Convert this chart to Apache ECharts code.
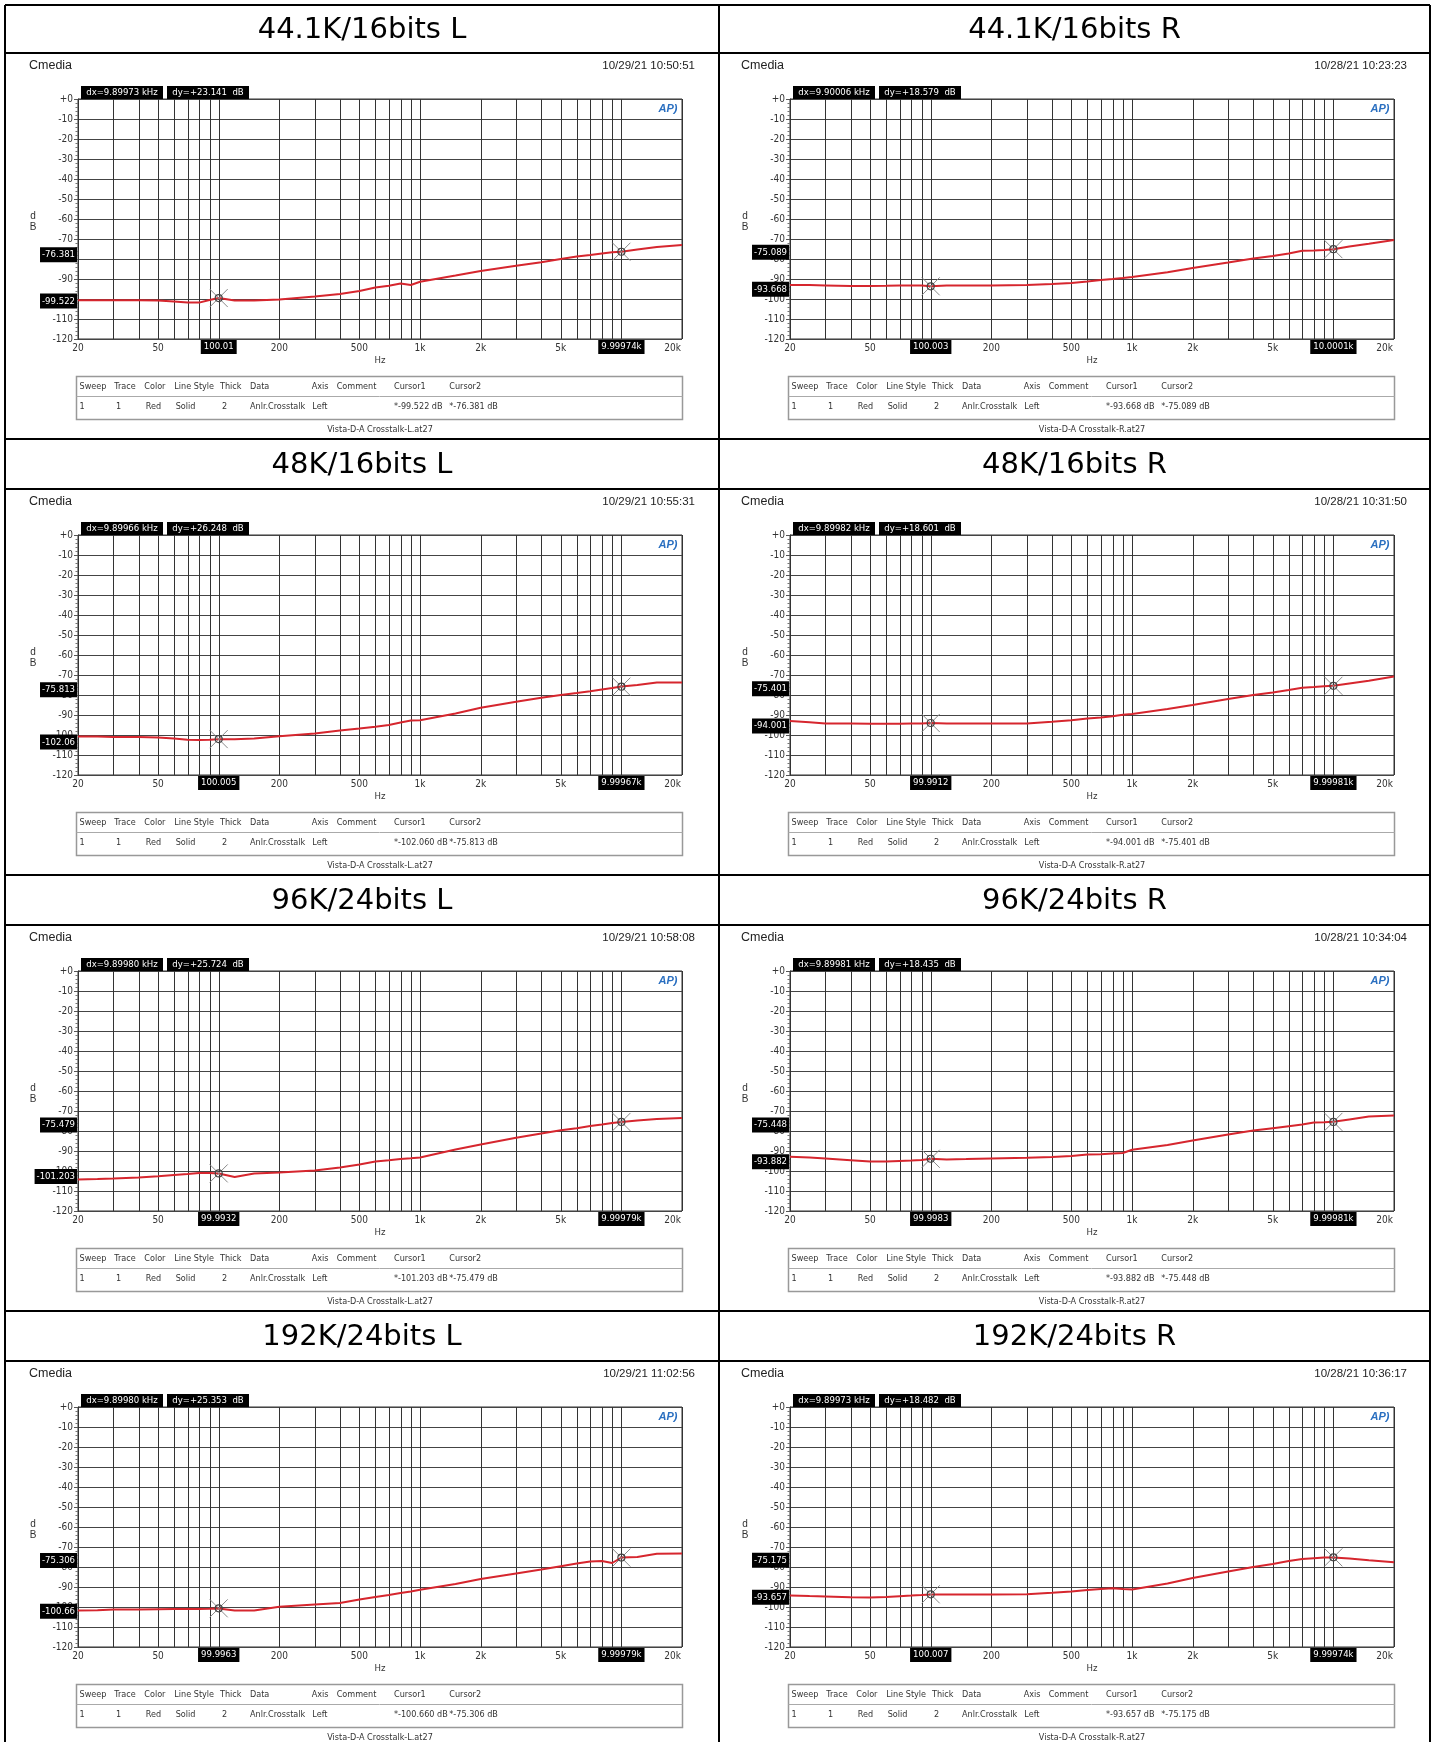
<!DOCTYPE html>
<html><head><meta charset="utf-8">
<script src="https://cdn.jsdelivr.net/npm/echarts@6/dist/echarts.min.js"></script>
<style>html,body{margin:0;padding:0;background:#fff}#c{width:1435px;height:1742px}</style>
</head><body><div id="c"></div><script>
// ---------------- DATA ----------------
const PANEL_TITLES = ['44.1K/16bits L','44.1K/16bits R','48K/16bits L','48K/16bits R','96K/24bits L','96K/24bits R','192K/24bits L','192K/24bits R'];
const TIMESTAMPS = ['10/29/21 10:50:51','10/28/21 10:23:23','10/29/21 10:55:31','10/28/21 10:31:50','10/29/21 10:58:08','10/28/21 10:34:04','10/29/21 11:02:56','10/28/21 10:36:17'];
const DX_TEXT = ['dx=9.89973 kHz','dx=9.90006 kHz','dx=9.89966 kHz','dx=9.89982 kHz','dx=9.89980 kHz','dx=9.89981 kHz','dx=9.89980 kHz','dx=9.89973 kHz'];
const DY_TEXT = ['dy=+23.141  dB','dy=+18.579  dB','dy=+26.248  dB','dy=+18.601  dB','dy=+25.724  dB','dy=+18.435  dB','dy=+25.353  dB','dy=+18.482  dB'];
const CUR1_HZ = [100.01, 100.003, 100.005, 99.9912, 99.9932, 99.9983, 99.9963, 100.007];
const CUR1_HZ_TEXT = ['100.01','100.003','100.005','99.9912','99.9932','99.9983','99.9963','100.007'];
const CUR2_HZ = [9999.74, 10000.06, 9999.67, 9999.81, 9999.79, 9999.81, 9999.79, 9999.74];
const CUR2_HZ_TEXT = ['9.99974k','10.0001k','9.99967k','9.99981k','9.99979k','9.99981k','9.99979k','9.99974k'];
const CUR1_DB = [-99.522, -93.668, -102.060, -94.001, -101.203, -93.882, -100.660, -93.657];
const CUR1_DB_TEXT = ['-99.522','-93.668','-102.06','-94.001','-101.203','-93.882','-100.66','-93.657'];
const CUR2_DB = [-76.381, -75.089, -75.813, -75.401, -75.479, -75.448, -75.306, -75.175];
const CUR2_DB_TEXT = ['-76.381','-75.089','-75.813','-75.401','-75.479','-75.448','-75.306','-75.175'];
const FILES = ['Vista-D-A Crosstalk-L.at27','Vista-D-A Crosstalk-R.at27'];

const Y_TICKS_MIN = -120, Y_TICKS_MAX = 0;
const GRID_HZ = [20,30,40,50,60,70,80,90,100,200,300,400,500,600,700,800,900,1000,2000,3000,4000,5000,6000,7000,8000,9000,10000,20000];
const X_LABEL_HZ = [20,50,100,200,500,1000,2000,5000,10000,20000];
const X_LABEL_TEXT = ['20','50','100','200','500','1k','2k','5k','10k','20k'];

const TABLE_HEAD = ['Sweep','Trace','Color','Line Style','Thick','Data','Axis','Comment','Cursor1','Cursor2'];
const TABLE_ROW = ['1','1','Red','Solid','2','Anlr.Crosstalk','Left',''];

const FREQ = [20,25,30,40,50,60,70,80,90,100,120,150,200,300,400,500,600,700,800,900,1000,1500,2000,3000,4000,5000,6000,7000,8000,9000,10000,12000,15000,20000];
const CT_441_L = [-100.6,-100.6,-100.6,-100.6,-100.8,-101.2,-101.8,-101.8,-100.5,-99.5,-100.8,-100.8,-100.3,-98.8,-97.5,-96.0,-94.3,-93.4,-92.3,-93.0,-91.4,-88.3,-86.0,-83.4,-81.6,-80.0,-78.8,-78.0,-77.2,-76.6,-76.4,-75.3,-74.0,-73.0];
const CT_441_R = [-93.0,-93.0,-93.2,-93.5,-93.5,-93.4,-93.3,-93.3,-93.3,-93.6,-93.3,-93.3,-93.3,-93.0,-92.5,-92.0,-91.2,-90.5,-90.0,-89.5,-89.0,-86.6,-84.5,-81.8,-79.8,-78.5,-77.2,-75.9,-75.8,-75.5,-75.1,-73.8,-72.4,-70.5];
const CT_48_L  = [-100.7,-100.8,-101.0,-101.0,-101.2,-101.8,-102.4,-102.5,-102.4,-102.1,-102.1,-101.8,-100.6,-99.3,-97.8,-96.8,-95.9,-95.0,-93.8,-92.8,-92.6,-89.2,-86.4,-83.4,-81.4,-80.0,-79.0,-78.1,-77.2,-76.5,-75.8,-75.0,-73.8,-73.8];
const CT_48_R  = [-93.0,-93.6,-94.2,-94.3,-94.4,-94.4,-94.4,-94.3,-94.2,-94.0,-94.3,-94.3,-94.3,-94.2,-93.4,-92.6,-91.8,-91.2,-90.6,-89.9,-89.5,-87.0,-85.0,-82.0,-80.0,-78.7,-77.5,-76.4,-76.0,-75.6,-75.4,-74.2,-72.9,-70.7];
const CT_96_L  = [-104.2,-104.0,-103.7,-103.2,-102.6,-102.0,-101.5,-101.0,-101.0,-101.2,-103.0,-101.3,-100.8,-99.7,-98.2,-96.8,-95.2,-94.6,-94.0,-93.6,-93.2,-89.3,-86.8,-83.4,-81.2,-79.6,-78.6,-77.5,-76.8,-76.0,-75.5,-74.8,-74.0,-73.5];
const CT_96_R  = [-92.9,-93.3,-93.7,-94.6,-95.3,-95.3,-95.0,-94.8,-94.5,-93.9,-94.2,-94.0,-93.7,-93.4,-93.0,-92.5,-91.7,-91.6,-91.2,-91.0,-89.4,-87.0,-84.8,-81.8,-79.8,-78.6,-77.6,-76.8,-75.8,-75.6,-75.4,-74.2,-72.8,-72.2];
const CT_192_L = [-101.8,-101.6,-101.3,-101.2,-101.1,-101.0,-101.0,-101.0,-100.9,-100.7,-101.8,-101.8,-99.9,-98.8,-98.0,-96.3,-95.0,-94.0,-93.0,-92.2,-91.4,-88.5,-86.0,-83.2,-81.2,-79.6,-78.3,-77.3,-77.0,-78.0,-75.3,-75.0,-73.4,-73.2];
const CT_192_R = [-94.2,-94.5,-94.7,-95.1,-95.2,-95.0,-94.6,-94.3,-94.0,-93.7,-93.7,-93.7,-93.7,-93.6,-92.9,-92.3,-91.5,-91.0,-90.6,-91.0,-91.3,-88.2,-85.5,-82.2,-80.0,-78.5,-77.0,-76.0,-75.6,-75.3,-75.2,-75.8,-76.6,-77.6];
const CURVES = [CT_441_L, CT_441_R, CT_48_L, CT_48_R, CT_96_L, CT_96_R, CT_192_L, CT_192_R];

// ---------------- LAYOUT ----------------
const FN = "'Liberation Sans Narrow','DejaVu Sans Condensed','Liberation Sans',Arial,sans-serif";
const FA = "'Liberation Sans',Arial,sans-serif";
const CELL_X = [5, 719, 1430];
const ROW_TOP = [5, 439, 875, 1311];
const FRAME_BOTTOM = 1745;
const TITLE_BOTTOM = [53, 489, 925, 1361];
const PLOT_LEFT = [78, 790];
const PW = 604, PH = 240;

const chart = echarts.init(document.getElementById('c'), null, {renderer:'canvas'});
const grids = [], xAxes = [], yAxes = [], series = [], G = [];

// outer frame
const frameStyle = {stroke:'#000', lineWidth:2};
ROW_TOP.forEach(y => G.push({type:'line', shape:{x1:CELL_X[0], y1:y, x2:CELL_X[2], y2:y}, style:frameStyle}));
TITLE_BOTTOM.forEach(y => G.push({type:'line', shape:{x1:CELL_X[0], y1:y, x2:CELL_X[2], y2:y}, style:frameStyle}));
CELL_X.forEach(x => G.push({type:'line', shape:{x1:x, y1:ROW_TOP[0], x2:x, y2:FRAME_BOTTOM}, style:frameStyle}));

function gridRender(params, api) {
  const f = api.value(0);
  const a = api.coord([f, Y_TICKS_MAX]), b = api.coord([f, Y_TICKS_MIN]);
  const x = Math.round(a[0]) + 0.5;
  return {type:'line', shape:{x1:x, y1:a[1], x2:x, y2:b[1]}, style:{stroke:'#333', lineWidth:1}};
}
function xLabelRender(params, api) {
  const p = api.coord([api.value(0), Y_TICKS_MIN]);
  const last = params.dataIndex === X_LABEL_HZ.length - 1;
  return {type:'text', x:last ? p[0] - 1 : p[0], y:p[1] + 9,
    style:{text:X_LABEL_TEXT[params.dataIndex], font:'10px ' + FN, fill:'#333', align:last ? 'right' : 'center', verticalAlign:'middle'}};
}
function makeCursorRender(k) {
  return function(params, api) {
    const i = params.dataIndex;
    const f = api.value(0), v = api.value(1);
    const p = api.coord([f, v]);
    const bottom = api.coord([f, Y_TICKS_MIN])[1];
    const left = api.coord([20, v])[0];
    const s = 9;
    const xt = i === 0 ? CUR1_HZ_TEXT[k] : CUR2_HZ_TEXT[k];
    const yt = i === 0 ? CUR1_DB_TEXT[k] : CUR2_DB_TEXT[k];
    return {type:'group', children:[
      {type:'line', shape:{x1:p[0]-s, y1:p[1]-s, x2:p[0]+s, y2:p[1]+s}, style:{stroke:'#8a8a8a', lineWidth:1}},
      {type:'line', shape:{x1:p[0]-s, y1:p[1]+s, x2:p[0]+s, y2:p[1]-s}, style:{stroke:'#8a8a8a', lineWidth:1}},
      {type:'circle', shape:{cx:p[0], cy:p[1], r:3.5}, style:{fill:'rgba(0,0,0,0)', stroke:'#444', lineWidth:1.2}},
      {type:'text', x:p[0], y:bottom + 1, style:{text:xt, font:'9.5px ' + FN, fill:'#fff', backgroundColor:'#000', padding:[2,3,2,3], align:'center', verticalAlign:'top'}},
      {type:'text', x:left - 1, y:p[1] + 3, style:{text:yt, font:'9.5px ' + FN, fill:'#fff', backgroundColor:'#000', padding:[3,2,2,2], align:'right', verticalAlign:'middle'}}
    ]};
  };
}

const HEAD_X = [1.5, 36.3, 66.3, 96.3, 142, 172, 233.7, 258.7, 316, 371.3];
const ROW_X = [1.5, 38, 67.7, 97.7, 144, 172, 234.3, 258.7, 316, 371.3];

for (let k = 0; k < 8; k++) {
  const r = Math.floor(k / 2), c = k % 2;
  const pl = PLOT_LEFT[c], pt = TITLE_BOTTOM[r] + 46;
  // title
  G.push({type:'text', x:(CELL_X[c] + CELL_X[c+1]) / 2, y:(ROW_TOP[r] + TITLE_BOTTOM[r]) / 2 + 1,
    style:{text:PANEL_TITLES[k], font:'29px "DejaVu Sans"', fill:'#000', align:'center', verticalAlign:'middle'}});
  G.push({type:'text', x:pl - 49, y:pt - 33, style:{text:'Cmedia', font:'12.5px ' + FA, fill:'#222', verticalAlign:'middle'}});
  G.push({type:'text', x:pl + 617, y:pt - 33, style:{text:TIMESTAMPS[k], font:'11.5px ' + FA, fill:'#222', align:'right', verticalAlign:'middle'}});
  G.push({type:'rect', shape:{x:pl + 3, y:pt - 13, width:82, height:13}, style:{fill:'#000'}});
  G.push({type:'text', x:pl + 44, y:pt - 6.5, style:{text:DX_TEXT[k], font:'9.5px ' + FN, fill:'#fff', align:'center', verticalAlign:'middle'}});
  G.push({type:'rect', shape:{x:pl + 89, y:pt - 13, width:82, height:13}, style:{fill:'#000'}});
  G.push({type:'text', x:pl + 130, y:pt - 6.5, style:{text:DY_TEXT[k], font:'9.5px ' + FN, fill:'#fff', align:'center', verticalAlign:'middle'}});
  G.push({type:'text', x:pl + 590, y:pt + 10, z:10, style:{text:'AP)', font:'italic bold 11px ' + FA, fill:'#2a6fc0', align:'center', verticalAlign:'middle'}});
  G.push({type:'text', x:pl - 45, y:pt + 117, style:{text:'d', font:'10px ' + FA, fill:'#333', align:'center', verticalAlign:'middle'}});
  G.push({type:'text', x:pl - 45, y:pt + 128, style:{text:'B', font:'10px ' + FA, fill:'#333', align:'center', verticalAlign:'middle'}});
  G.push({type:'text', x:pl + PW / 2, y:pt + PH + 22, style:{text:'Hz', font:'9.5px ' + FN, fill:'#333', align:'center', verticalAlign:'middle'}});
  // table
  G.push({type:'rect', shape:{x:pl - 1.5, y:pt + PH + 37.5, width:PW + 2, height:43}, style:{fill:'none', stroke:'#999', lineWidth:1.5}});
  G.push({type:'line', shape:{x1:pl - 1.5, y1:pt + PH + 57.5, x2:pl + PW + 0.5, y2:pt + PH + 57.5}, style:{stroke:'#aaa', lineWidth:1}});
  TABLE_HEAD.forEach((t, j) => G.push({type:'text', x:pl + HEAD_X[j], y:pt + PH + 48, style:{text:t, font:'9px ' + FN, fill:'#333', verticalAlign:'middle'}}));
  const rowVals = TABLE_ROW.concat(['*' + CUR1_DB[k].toFixed(3) + ' dB', '*' + CUR2_DB[k].toFixed(3) + ' dB']);
  rowVals.forEach((t, j) => G.push({type:'text', x:pl + ROW_X[j], y:pt + PH + 68, style:{text:t, font:'9px ' + FN, fill:'#333', verticalAlign:'middle'}}));
  G.push({type:'text', x:pl + PW / 2, y:pt + PH + 91, style:{text:FILES[c], font:'9px ' + FN, fill:'#333', align:'center', verticalAlign:'middle'}});

  grids.push({left:pl, top:pt, width:PW, height:PH, show:true, borderColor:'#333', borderWidth:1, backgroundColor:'#fff'});
  xAxes.push({type:'log', logBase:10, gridIndex:k, min:20, max:20000,
    axisLine:{show:false}, axisTick:{show:false}, axisLabel:{show:false}, splitLine:{show:false}});
  yAxes.push({type:'value', gridIndex:k, min:Y_TICKS_MIN, max:Y_TICKS_MAX, interval:10,
    axisLine:{show:true, lineStyle:{color:'#333'}},
    axisTick:{show:true, length:4, lineStyle:{color:'#555'}},
    minorTick:{show:true, splitNumber:5, length:2.5, lineStyle:{color:'#777'}},
    splitLine:{show:true, lineStyle:{color:'#444', width:1}},
    axisLabel:{formatter:v => v === 0 ? '+0' : String(v), fontSize:10, fontFamily:FN, color:'#333', margin:5}});
  series.push({type:'custom', xAxisIndex:k, yAxisIndex:k, z:1, silent:true, clip:false,
    data:GRID_HZ.map(f => [f, Y_TICKS_MIN]), encode:{x:0, y:1}, renderItem:gridRender});
  series.push({type:'custom', xAxisIndex:k, yAxisIndex:k, z:2, silent:true, clip:false,
    data:X_LABEL_HZ.map(f => [f, Y_TICKS_MIN]), encode:{x:0, y:1}, renderItem:xLabelRender});
  series.push({type:'line', xAxisIndex:k, yAxisIndex:k, z:3, silent:true, showSymbol:false,
    data:FREQ.map((f, i) => [f, CURVES[k][i]]), lineStyle:{color:'#d6262e', width:2}});
  series.push({type:'custom', xAxisIndex:k, yAxisIndex:k, z:6, silent:true, clip:false,
    data:[[CUR1_HZ[k], CUR1_DB[k]], [CUR2_HZ[k], CUR2_DB[k]]], encode:{x:0, y:1}, renderItem:makeCursorRender(k)});
}

chart.setOption({animation:false, grid:grids, xAxis:xAxes, yAxis:yAxes, series:series, graphic:{elements:G}});
</script></body></html>
